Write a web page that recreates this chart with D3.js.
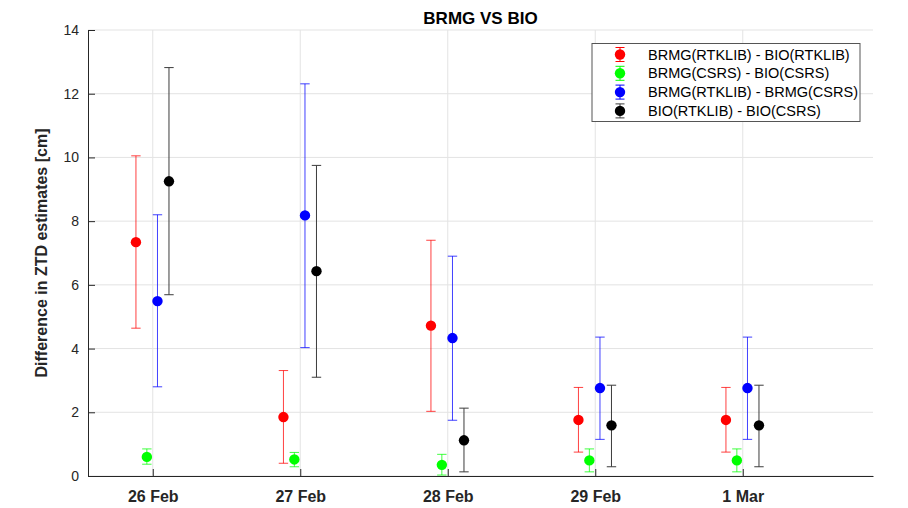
<!DOCTYPE html>
<html>
<head>
<meta charset="utf-8">
<script src="https://cdn.jsdelivr.net/npm/d3@7"></script>
<style>
    body { margin: 0; background: #fff; }
    svg text { font-family: "Liberation Sans", Arial, Helvetica, sans-serif; fill: #262626; }
</style>
</head>
<body>
<div id="chart"></div>
<script>
const days = ["26 Feb", "27 Feb", "28 Feb", "29 Feb", "1 Mar"];
const seriesNames = ["BRMG(RTKLIB) - BIO(RTKLIB)", "BRMG(CSRS) - BIO(CSRS)",
    "BRMG(RTKLIB) - BRMG(CSRS)", "BIO(RTKLIB) - BIO(CSRS)"];
const seriesColors = ["#ff0000", "#00ff00", "#0000ff", "#000000"];
const seriesOffsets = [-0.114, -0.04, 0.032, 0.11];

// mean, lower and upper end of each error bar
const rtkRtkMean  = [7.34, 1.85, 4.72, 1.76, 1.76];
const rtkRtkLow   = [4.64, 0.40, 2.03, 0.75, 0.75];
const rtkRtkHigh  = [10.05, 3.31, 7.40, 2.78, 2.78];
const csrsMean    = [0.60, 0.52, 0.35, 0.49, 0.49];
const csrsLow     = [0.37, 0.29, 0.03, 0.13, 0.13];
const csrsHigh    = [0.85, 0.74, 0.68, 0.85, 0.85];
const brmgMean    = [5.49, 8.18, 4.33, 2.76, 2.76];
const brmgLow     = [2.80, 4.03, 1.75, 1.15, 1.15];
const brmgHigh    = [8.20, 12.31, 6.90, 4.36, 4.36];
const bioMean     = [9.25, 6.43, 1.12, 1.59, 1.59];
const bioLow      = [5.69, 3.10, 0.13, 0.29, 0.29];
const bioHigh     = [12.82, 9.75, 2.13, 2.85, 2.85];

const yTicks = [0, 2, 4, 6, 8, 10, 12, 14];

const allMean = [rtkRtkMean, csrsMean, brmgMean, bioMean];
const allLow = [rtkRtkLow, csrsLow, brmgLow, bioLow];
const allHigh = [rtkRtkHigh, csrsHigh, brmgHigh, bioHigh];

const margin = {top: 30, right: 35, bottom: 32, left: 88};
const W = 908, H = 508;
const width = W - margin.left - margin.right,
    height = H - margin.top - margin.bottom;

const svg = d3.select("#chart").append("svg")
    .attr("width", W)
    .attr("height", H);

const plot = svg.append("g")
    .attr("transform", `translate(${margin.left},${margin.top})`);

const xScale = d3.scaleLinear().domain([0.561, 5.883]).range([0, width]);
const yScale = d3.scaleLinear().domain([0, 14]).range([height, 0]);

// grid
plot.append("g").selectAll("line")
    .data(yTicks)
    .join("line")
    .attr("x1", 0).attr("x2", width)
    .attr("y1", d => yScale(d)).attr("y2", d => yScale(d))
    .attr("stroke", "#e3e3e3");

plot.append("g").selectAll("line")
    .data(d3.range(1, days.length + 1))
    .join("line")
    .attr("x1", d => xScale(d)).attr("x2", d => xScale(d))
    .attr("y1", 0).attr("y2", height)
    .attr("stroke", "#e3e3e3");

// axes
const yAxis = plot.append("g")
    .call(d3.axisLeft(yScale).tickValues(yTicks).tickSizeInner(-7).tickSizeOuter(0).tickPadding(9));
yAxis.select(".domain").attr("stroke", "#262626");
yAxis.selectAll(".tick line").attr("stroke", "#262626");
yAxis.selectAll(".tick text").attr("font-size", "14px").attr("fill", "#262626");

const xAxis = plot.append("g")
    .attr("transform", `translate(0,${height})`)
    .call(d3.axisBottom(xScale).tickValues(d3.range(1, days.length + 1))
        .tickFormat(d => days[d - 1]).tickSizeInner(-7).tickSizeOuter(0).tickPadding(15));
xAxis.select(".domain").attr("stroke", "#262626");
xAxis.selectAll(".tick line").attr("stroke", "#262626");
xAxis.selectAll(".tick text").attr("font-size", "16px").attr("font-weight", "bold").attr("fill", "#262626");

// error bars
const capHalf = 4.7;
seriesNames.forEach(function(name, s) {
    const pts = days.map((d, i) => ({
        x: xScale(i + 1 + seriesOffsets[s]),
        mean: allMean[s][i], low: allLow[s][i], high: allHigh[s][i]
    }));
    const g = plot.append("g").attr("class", "series");
    const lineCol = s === 3 ? "#3c3c3c" : seriesColors[s];
    const op = s === 3 ? 1 : 0.75;

    g.selectAll("line.stem").data(pts).join("line")
        .attr("class", "stem")
        .attr("x1", d => d.x).attr("x2", d => d.x)
        .attr("y1", d => yScale(d.low)).attr("y2", d => yScale(d.high))
        .attr("stroke", lineCol).attr("stroke-opacity", op);
    g.selectAll("line.capTop").data(pts).join("line")
        .attr("class", "capTop")
        .attr("x1", d => d.x - capHalf).attr("x2", d => d.x + capHalf)
        .attr("y1", d => yScale(d.high)).attr("y2", d => yScale(d.high))
        .attr("stroke", lineCol).attr("stroke-opacity", op);
    g.selectAll("line.capBot").data(pts).join("line")
        .attr("class", "capBot")
        .attr("x1", d => d.x - capHalf).attr("x2", d => d.x + capHalf)
        .attr("y1", d => yScale(d.low)).attr("y2", d => yScale(d.low))
        .attr("stroke", lineCol).attr("stroke-opacity", op);
    g.selectAll("circle").data(pts).join("circle")
        .attr("cx", d => d.x).attr("cy", d => yScale(d.mean))
        .attr("r", 5.2)
        .attr("fill", seriesColors[s]);
});

// title
svg.append("text")
    .attr("x", margin.left + width / 2)
    .attr("y", 24)
    .attr("text-anchor", "middle")
    .attr("font-size", "17px")
    .attr("font-weight", "bold")
    .style("fill", "#000")
    .text("BRMG VS BIO");

// y label
svg.append("text")
    .attr("transform", `translate(47,${margin.top + height / 2}) rotate(-90)`)
    .attr("text-anchor", "middle")
    .attr("font-size", "16px")
    .attr("font-weight", "bold")
    .text("Difference in ZTD estimates [cm]");

// legend
const legend = svg.append("g").attr("transform", "translate(592,43.5)");
legend.append("rect")
    .attr("width", 268).attr("height", 78)
    .attr("fill", "#fff")
    .attr("stroke", "#555");

seriesNames.forEach(function(name, s) {
    const cy = 11 + s * 18.8;
    const row = legend.append("g").attr("transform", `translate(28,${cy})`);
    const lineCol = s === 3 ? "#3c3c3c" : seriesColors[s];
    row.append("line").attr("x1", 0).attr("x2", 0).attr("y1", -7).attr("y2", 7)
        .attr("stroke", lineCol);
    row.append("line").attr("x1", -4.5).attr("x2", 4.5).attr("y1", -7).attr("y2", -7)
        .attr("stroke", lineCol);
    row.append("line").attr("x1", -4.5).attr("x2", 4.5).attr("y1", 7).attr("y2", 7)
        .attr("stroke", lineCol);
    row.append("circle").attr("r", 5.2).attr("fill", seriesColors[s]);
    legend.append("text")
        .attr("x", 56)
        .attr("y", cy + 5)
        .attr("font-size", "14.5px")
        .style("fill", "#000")
        .text(name);
});
</script>
</body>
</html>
